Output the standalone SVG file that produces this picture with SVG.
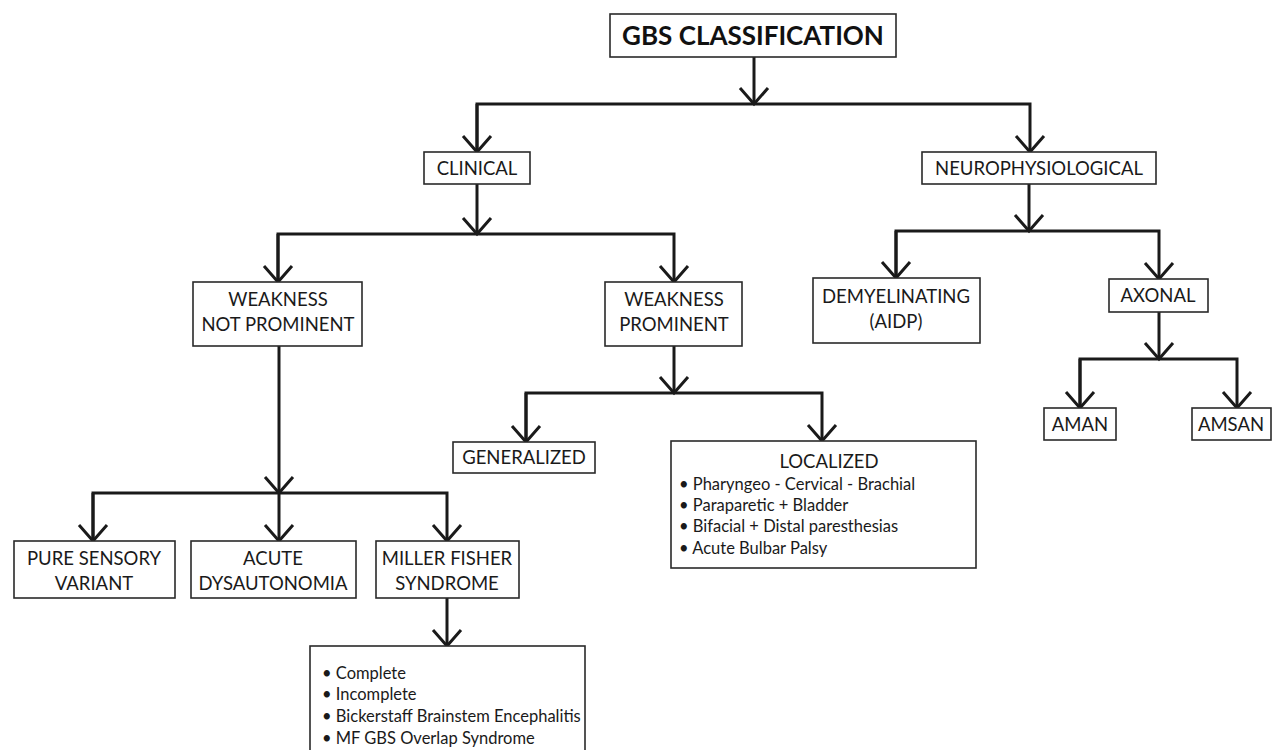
<svg xmlns="http://www.w3.org/2000/svg" width="1272" height="750" viewBox="0 0 1272 750">
<style>
.box{fill:#fff;stroke:#2a2a2a;stroke-width:1.6}
.t{font-family:Lato,"Liberation Sans",sans-serif;font-size:18.5px;fill:#1a1a1a;text-anchor:middle}
.l{font-family:Lato,"Liberation Sans",sans-serif;font-size:16.5px;fill:#1a1a1a}
.title{font-family:Lato,"Liberation Sans",sans-serif;font-size:26px;font-weight:bold;fill:#111;text-anchor:middle}
.c{fill:none;stroke:#1a1a1a;stroke-width:3;stroke-linejoin:miter}
</style>
<defs>
<marker id="chev" markerUnits="userSpaceOnUse" viewBox="-20 -16 22 32" refX="0" refY="0" markerWidth="22" markerHeight="32" orient="auto" overflow="visible">
<path d="M-16,-14 L0,0 L-16,14" fill="none" stroke="#1a1a1a" stroke-width="3"/>
</marker>
</defs>
<rect width="1272" height="750" fill="#fff"/>
<g id="connectors">
<line class="c" x1="754" y1="57" x2="754" y2="104" marker-end="url(#chev)"/>
<polyline class="c" points="477,152 477,104 1030,104 1030,152" marker-end="url(#chev)"/>
<line class="c" x1="477" y1="104" x2="477" y2="152" marker-end="url(#chev)"/>
<line class="c" x1="477" y1="184" x2="477" y2="234" marker-end="url(#chev)"/>
<polyline class="c" points="278,282 278,234 674,234 674,282" marker-end="url(#chev)"/>
<line class="c" x1="278" y1="234" x2="278" y2="282" marker-end="url(#chev)"/>
<line class="c" x1="1029" y1="184" x2="1029" y2="231" marker-end="url(#chev)"/>
<polyline class="c" points="896,278 896,231 1159,231 1159,279" marker-end="url(#chev)"/>
<line class="c" x1="896" y1="231" x2="896" y2="278" marker-end="url(#chev)"/>
<line class="c" x1="1159" y1="312" x2="1159" y2="359" marker-end="url(#chev)"/>
<polyline class="c" points="1080,408 1080,359 1237,359 1237,408" marker-end="url(#chev)"/>
<line class="c" x1="1080" y1="359" x2="1080" y2="408" marker-end="url(#chev)"/>
<line class="c" x1="674" y1="346" x2="674" y2="393" marker-end="url(#chev)"/>
<polyline class="c" points="526,442 526,393 822,393 822,441" marker-end="url(#chev)"/>
<line class="c" x1="526" y1="393" x2="526" y2="442" marker-end="url(#chev)"/>
<line class="c" x1="279" y1="346" x2="279" y2="493" marker-end="url(#chev)"/>
<polyline class="c" points="93,541 93,493 447,493 447,541" marker-end="url(#chev)"/>
<line class="c" x1="93" y1="493" x2="93" y2="541" marker-end="url(#chev)"/>
<line class="c" x1="279" y1="493" x2="279" y2="541" marker-end="url(#chev)"/>
<line class="c" x1="447" y1="598" x2="447" y2="646" marker-end="url(#chev)"/>
</g>
<g id="gbs"><rect class="box" x="610" y="14" width="286" height="43"/><text class="title" x="753" y="45">GBS CLASSIFICATION</text></g>
<g id="clinical"><rect class="box" x="424" y="152" width="106" height="32"/><text class="t" x="477" y="175">CLINICAL</text></g>
<g id="neuro"><rect class="box" x="922" y="152" width="234" height="32"/><text class="t" x="1039" y="175">NEUROPHYSIOLOGICAL</text></g>
<g id="wnp"><rect class="box" x="193" y="282" width="169" height="64"/><text class="t" x="278" y="306">WEAKNESS</text><text class="t" x="278" y="331">NOT PROMINENT</text></g>
<g id="wp"><rect class="box" x="605" y="282" width="137" height="64"/><text class="t" x="674" y="306">WEAKNESS</text><text class="t" x="674" y="331">PROMINENT</text></g>
<g id="demy"><rect class="box" x="813" y="278" width="167" height="65"/><text class="t" x="896" y="303">DEMYELINATING</text><text class="t" x="896" y="328">(AIDP)</text></g>
<g id="axonal"><rect class="box" x="1109" y="279" width="99" height="33"/><text class="t" x="1158" y="302">AXONAL</text></g>
<g id="aman"><rect class="box" x="1044" y="408" width="72" height="32"/><text class="t" x="1080" y="431">AMAN</text></g>
<g id="amsan"><rect class="box" x="1192" y="408" width="79" height="32"/><text class="t" x="1231" y="431">AMSAN</text></g>
<g id="generalized"><rect class="box" x="453" y="442" width="142" height="31"/><text class="t" x="524" y="464">GENERALIZED</text></g>
<g id="localized"><rect class="box" x="671" y="441" width="305" height="127"/><text class="t" x="829" y="468">LOCALIZED</text>
<text class="l" x="679" y="490">• Pharyngeo - Cervical - Brachial</text>
<text class="l" x="679" y="511">• Paraparetic + Bladder</text>
<text class="l" x="679" y="532">• Bifacial + Distal paresthesias</text>
<text class="l" x="679" y="554">• Acute Bulbar Palsy</text></g>
<g id="pure"><rect class="box" x="14" y="541" width="161" height="57"/><text class="t" x="94" y="565">PURE SENSORY</text><text class="t" x="94" y="590">VARIANT</text></g>
<g id="acute"><rect class="box" x="191" y="541" width="165" height="57"/><text class="t" x="273" y="565">ACUTE</text><text class="t" x="273" y="590">DYSAUTONOMIA</text></g>
<g id="mf"><rect class="box" x="376" y="541" width="143" height="57"/><text class="t" x="447" y="565">MILLER FISHER</text><text class="t" x="447" y="590">SYNDROME</text></g>
<g id="mflist"><rect class="box" x="310" y="646" width="275" height="120"/>
<text class="l" x="322" y="679">• Complete</text>
<text class="l" x="322" y="700">• Incomplete</text>
<text class="l" x="322" y="722">• Bickerstaff Brainstem Encephalitis</text>
<text class="l" x="322" y="744">• MF GBS Overlap Syndrome</text></g>
</svg>
